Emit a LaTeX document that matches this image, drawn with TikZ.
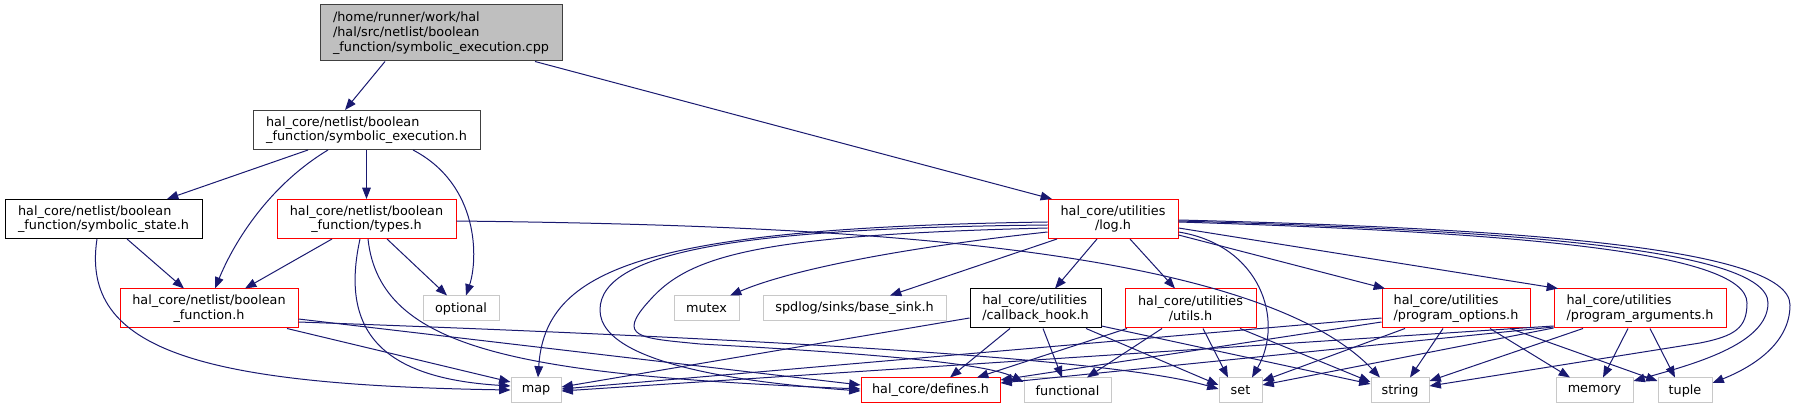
\documentclass[tikz,border=0pt]{standalone}
\usepackage{fontspec}
\setmainfont{DejaVu Sans}
\usepackage{tikz}
\usetikzlibrary{arrows.meta,positioning}
\definecolor{edgeblue}{RGB}{25,25,112}
\definecolor{rootgrey}{RGB}{191,191,191}
\definecolor{framedark}{RGB}{64,64,64}
\definecolor{truncred}{RGB}{255,0,0}
\definecolor{sysgrey}{RGB}{200,200,200}

\begin{document}
\begin{tikzpicture}[
    x=0.75pt, y=-0.75pt,
    every node/.style={font=\fontsize{9.6}{11}\selectfont, inner sep=2pt},
    box/.style={rectangle, draw=black, line width=0.75pt, align=center, minimum height=29.25pt},
    rootbox/.style={box, draw=framedark, fill=rootgrey, align=left, minimum height=42pt},
    redbox/.style={box, draw=truncred},
    sysbox/.style={rectangle, draw=sysgrey, line width=0.75pt, minimum height=18.75pt},
    arrow/.style={-{Triangle[length=8.5pt,width=6.5pt]}, draw=edgeblue, line width=0.75pt}
]
    \useasboundingbox (0,0) rectangle (1796,409);

    \node[rootbox, minimum width=181.5pt] (root) at (441,33) {/home/runner/work/hal\\/hal/src/netlist/boolean\\\_function/symbolic\_execution.cpp};
    \node[box, draw=framedark, align=left, minimum width=170.25pt] (symexec) at (366.5,130) {hal\_core/netlist/boolean\\\_function/symbolic\_execution.h};
    \node[box, align=left, minimum width=147.75pt] (symstate) at (103.5,219) {hal\_core/netlist/boolean\\\_function/symbolic\_state.h};
    \node[redbox, minimum width=134.25pt] (types) at (366.5,219) {hal\_core/netlist/boolean\\\_function/types.h};
    \node[redbox, minimum width=133.5pt] (boolfn) at (209,308.5) {hal\_core/netlist/boolean\\\_function.h};
    \node[sysbox, minimum width=57pt] (optional) at (461,308.5) {optional};
    \node[redbox, minimum width=97.5pt] (log) at (1113,219) {hal\_core/utilities\\/log.h};
    \node[sysbox, minimum width=48.75pt] (mutex) at (706.5,308.5) {mutex};
    \node[sysbox, minimum width=137.25pt] (sink) at (854.5,308.5) {spdlog/sinks/base\_sink.h};
    \node[box, align=left, minimum width=98.25pt] (callback) at (1035.5,308.5) {hal\_core/utilities\\/callback\_hook.h};
    \node[redbox, minimum width=98.25pt] (utils) at (1190.5,308.5) {hal\_core/utilities\\/utils.h};
    \node[redbox, align=left, minimum width=111pt] (progopt) at (1456,308.5) {hal\_core/utilities\\/program\_options.h};
    \node[redbox, align=left, minimum width=129pt] (progarg) at (1640,308.5) {hal\_core/utilities\\/program\_arguments.h};
    \node[sysbox, minimum width=37.5pt] (map) at (536,390.5) {map};
    \node[redbox, minimum width=104.25pt, minimum height=18.75pt] (defines) at (930.5,390.5) {hal\_core/defines.h};
    \node[sysbox, minimum width=65.25pt] (functional) at (1067.5,390.5) {functional};
    \node[sysbox, minimum width=32.25pt] (set) at (1240.5,390.5) {set};
    \node[sysbox, minimum width=43.5pt] (string) at (1400,390.5) {string};
    \node[sysbox, minimum width=57.75pt] (memory) at (1594.5,390.5) {memory};
    \node[sysbox, minimum width=40.5pt] (tuple) at (1685,390.5) {tuple};

    \draw[arrow] (root.south -| 385,0) -- (symexec.north -| 345,0);
    \draw[arrow] (root.south -| 535,0) -- (log.north -| 1052,0);

    \draw[arrow] (symexec.south -| 308,0) -- (symstate.north -| 167,0);
    \draw[arrow] (symexec.south -| 328,0) .. controls (270,185) and (235,240) .. (boolfn.north -| 215,0);
    \draw[arrow] (symexec) -- (types);
    \draw[arrow] (symexec.south -| 413,0) .. controls (480,185) and (478,260) .. (optional.north -| 466,0);

    \draw[arrow] (symstate.south -| 127,0) -- (boolfn.north -| 184,0);
    \draw[arrow] (symstate.south -| 97,0) .. controls (80,350) and (200,385) .. (map.west |- 0,390);

    \draw[arrow] (types.south -| 332,0) -- (boolfn.north -| 245,0);
    \draw[arrow] (types.south -| 387,0) -- (optional.north -| 447,0);
    \draw[arrow] (types.south -| 360,0) .. controls (340,330) and (380,378) .. (map.west |- 0,386);
    \draw[arrow] (types.south -| 368,0) .. controls (380,350) and (520,375) .. (defines.west |- 0,389);
    \draw[arrow] (types.east |- 0,221) .. controls (800,225) and (1250,240) .. (string.north -| 1380,0);

    \draw[arrow] (boolfn.south -| 287,0) -- (map.west |- 0,382);
    \draw[arrow] (boolfn.east |- 0,319) -- (defines.west |- 0,385);
    \draw[arrow] (boolfn.east |- 0,322) .. controls (800,340) and (1120,360) .. (set.west |- 0,389);

    \draw[arrow] (log.west |- 0,222) .. controls (640,228) and (545,270) .. (map.north -| 538,0);
    \draw[arrow] (log.west |- 0,225) .. controls (750,228) and (600,250) .. (600,310) .. controls (600,370) and (780,385) .. (defines.west |- 0,391);
    \draw[arrow] (log.west |- 0,228) .. controls (760,235) and (690,255) .. (650,300) .. controls (615,338) and (640,338) .. (700,344) .. controls (900,355) and (990,365) .. (functional.west |- 0,382);
    \draw[arrow] (log.west |- 0,232) .. controls (900,248) and (790,270) .. (mutex.north -| 730,0);
    \draw[arrow] (log.south -| 1057,0) -- (sink.north -| 890,0);
    \draw[arrow] (log.south -| 1097,0) -- (callback.north -| 1055,0);
    \draw[arrow] (log.south -| 1130,0) -- (utils.north -| 1175,0);
    \draw[arrow] (log.east |- 0,232) .. controls (1260,245) and (1285,320) .. (set.north -| 1252,0);
    \draw[arrow] (log.east |- 0,235) -- (progopt.north -| 1385,0);
    \draw[arrow] (log.east |- 0,228) -- (progarg.north -| 1558,0);
    \draw[arrow] (log.east |- 0,222) .. controls (1500,232) and (1747,250) .. (1747,303) .. controls (1747,328) and (1735,336) .. (1700,343) -- (string.east |- 0,386);
    \draw[arrow] (log.east |- 0,221) .. controls (1500,230) and (1768,248) .. (1768,303) .. controls (1768,345) and (1690,365) .. (memory.east |- 0,381);
    \draw[arrow] (log.east |- 0,220) .. controls (1500,228) and (1790,246) .. (1790,305) .. controls (1790,345) and (1750,368) .. (tuple.east |- 0,383);

    \draw[arrow] (callback.west |- 0,318) -- (map.east |- 0,387);
    \draw[arrow] (callback.south -| 1010,0) -- (defines.north -| 950,0);
    \draw[arrow] (callback.south -| 1043,0) -- (functional.north -| 1062,0);
    \draw[arrow] (callback.south -| 1086,0) -- (set.west |- 0,385);
    \draw[arrow] (callback.east |- 0,326) -- (string.west |- 0,384);

    \draw[arrow] (utils.south -| 1127,0) -- (defines.north -| 977,0);
    \draw[arrow] (utils.south -| 1162,0) -- (functional.north -| 1087,0);
    \draw[arrow] (utils.south -| 1203,0) -- (set.north -| 1228,0);
    \draw[arrow] (utils.south -| 1240,0) -- (string.west |- 0,382);

    \draw[arrow] (progopt.west |- 0,318) -- (map.east |- 0,389);
    \draw[arrow] (progopt.west |- 0,322) -- (defines.east |- 0,380);
    \draw[arrow] (progopt.south -| 1405,0) -- (set.east |- 0,381);
    \draw[arrow] (progopt.south -| 1443,0) -- (string.north -| 1410,0);
    \draw[arrow] (progopt.south -| 1490,0) -- (memory.north -| 1570,0);
    \draw[arrow] (progopt.south -| 1510,0) -- (tuple.west |- 0,381);

    \draw[arrow] (progarg.west |- 0,326) -- (map.east |- 0,391);
    \draw[arrow] (progarg.west |- 0,327) -- (defines.east |- 0,383);
    \draw[arrow] (progarg.west |- 0,328) -- (set.east |- 0,385);
    \draw[arrow] (progarg.south -| 1583,0) -- (string.east |- 0,381);
    \draw[arrow] (progarg.south -| 1628,0) -- (memory.north -| 1603,0);
    \draw[arrow] (progarg.south -| 1650,0) -- (tuple.north -| 1675,0);
\end{tikzpicture}
\end{document}
